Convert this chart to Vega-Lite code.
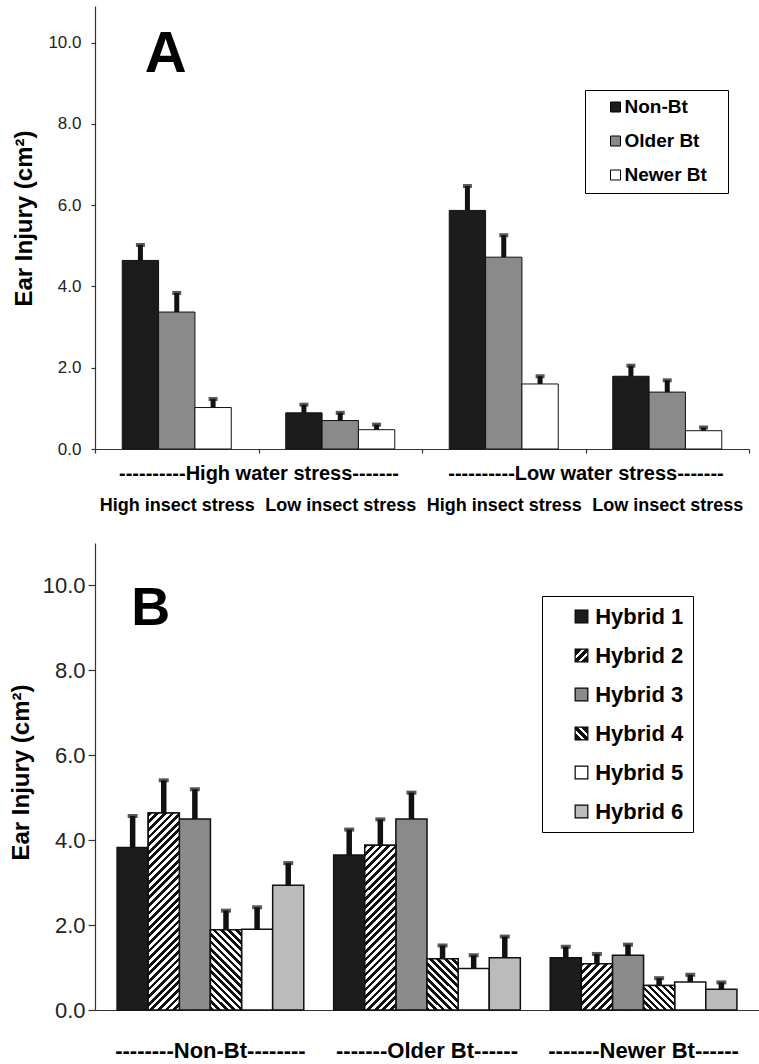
{
  "$schema": "https://vega.github.io/schema/vega-lite/v6.json",
  "padding": {"left": 9, "top": 6, "right": 0, "bottom": 0},
  "background": "white",
  "bounds": "flush",
  "spacing": 94,
  "resolve": {"scale": {"x": "independent", "xOffset": "independent", "y": "independent", "fill": "independent"}, "legend": {"fill": "independent"}, "axis": {"x": "independent", "y": "independent"}},
  "config": {
    "font": "Liberation Sans",
    "view": {"stroke": null},
    "axis": {"labelFont": "Liberation Sans", "titleFont": "Liberation Sans", "grid": false, "domainColor": "#333", "tickColor": "#333", "labelColor": "#222", "titleColor": "#000", "domainWidth": 1.2, "tickWidth": 1.2},
    "legend": {"labelFont": "Liberation Sans", "titleFont": "Liberation Sans"}
  },
  "vconcat": [
    {
      "width": 654,
      "height": 443,
      "layer": [
        {
          "data": {"values": [
            {"cond": "High water, high insect", "type": "Non-Bt", "val": 4.64, "err": 5.02},
            {"cond": "High water, high insect", "type": "Older Bt", "val": 3.37, "err": 3.84},
            {"cond": "High water, high insect", "type": "Newer Bt", "val": 1.02, "err": 1.23},
            {"cond": "High water, low insect", "type": "Non-Bt", "val": 0.89, "err": 1.09},
            {"cond": "High water, low insect", "type": "Older Bt", "val": 0.7, "err": 0.89},
            {"cond": "High water, low insect", "type": "Newer Bt", "val": 0.475, "err": 0.6},
            {"cond": "Low water, high insect", "type": "Non-Bt", "val": 5.87, "err": 6.47},
            {"cond": "Low water, high insect", "type": "Older Bt", "val": 4.72, "err": 5.26},
            {"cond": "Low water, high insect", "type": "Newer Bt", "val": 1.6, "err": 1.79},
            {"cond": "Low water, low insect", "type": "Non-Bt", "val": 1.79, "err": 2.05},
            {"cond": "Low water, low insect", "type": "Older Bt", "val": 1.4, "err": 1.69},
            {"cond": "Low water, low insect", "type": "Newer Bt", "val": 0.45, "err": 0.53}
          ]},
          "encoding": {
            "x": {"field": "cond", "type": "nominal", "sort": null,
              "scale": {"domain": ["High water, high insect", "High water, low insect", "Low water, high insect", "Low water, low insect"], "paddingInner": 0, "paddingOuter": 0},
              "axis": {"title": null, "labelExpr": "datum.label ? (indexof(datum.label, 'high insect') >= 0 ? 'High insect stress' : 'Low insect stress') : ''", "labelAngle": 0, "labelFontSize": 18, "labelFontWeight": "bold", "labelColor": "#000", "labelPadding": 43, "tickSize": 4, "tickBand": "extent", "labelLimit": 0, "labelOverlap": false}},
            "xOffset": {"field": "type", "type": "nominal", "scale": {"domain": ["Non-Bt", "Older Bt", "Newer Bt"], "paddingInner": 0, "paddingOuter": 0.75}},
            "y": {"field": "val", "type": "quantitative", "scale": {"domain": [0, 10.9], "nice": false},
              "axis": {"title": "Ear  Injury  (cm²)", "titleFontSize": 24, "titleFontWeight": "bold", "titleX": -71, "titleY": 212, "titleAngle": -90, "titleBaseline": "middle", "titleAlign": "center", "values": [0, 2, 4, 6, 8, 10], "format": ".1f", "labelFontSize": 17, "tickSize": 4, "labelPadding": 10}}
          },
          "layer": [
            {"mark": {"type": "bar", "stroke": "#111", "strokeWidth": 1},
             "encoding": {"fill": {"field": "type", "type": "nominal",
               "scale": {"domain": ["Non-Bt", "Older Bt", "Newer Bt"], "range": ["#1c1c1c", "#8a8a8a", "#ffffff"]},
               "legend": {"title": " ", "titleOrient": "right", "titlePadding": 14, "titleFontSize": 19, "orient": "none", "legendX": 490, "legendY": 84, "symbolType": "square", "symbolSize": 100, "symbolStrokeColor": "#000", "symbolStrokeWidth": 1, "labelFontSize": 19, "labelFontWeight": "bold", "labelColor": "#000", "rowPadding": 14, "padding": 7.5, "symbolOffset": 13.5, "labelOffset": -0.5, "strokeColor": "#000", "fillColor": "#fff"}}}},
            {"mark": {"type": "rule", "color": "#111", "strokeWidth": 5}, "encoding": {"y2": {"field": "err"}}},
            {"mark": {"type": "tick", "color": "#111", "thickness": 4, "size": 9}, "encoding": {"y": {"field": "err", "type": "quantitative"}}},
            {"data": {"values": [{"cond": "High water, high insect", "type": "Older Bt", "val": 9.28, "lab": "A"}]},
             "mark": {"type": "text", "fontSize": 58, "fontWeight": "bold", "dx": -11, "baseline": "alphabetic", "align": "center", "color": "#000"},
             "encoding": {"text": {"field": "lab"}}}
          ]
        },
        {
          "data": {"values": [{"water": "----------High water stress-------"}, {"water": "----------Low water stress-------"}]},
          "mark": {"type": "point", "opacity": 0},
          "encoding": {"x": {"field": "water", "type": "nominal", "sort": null, "scale": {"paddingInner": 0, "paddingOuter": 0},
            "axis": {"orient": "bottom", "title": null, "domain": false, "ticks": false, "tickSize": 0, "labelPadding": 14, "labelFontSize": 20, "labelFontWeight": "bold", "labelColor": "#000", "labelAngle": 0, "labelLimit": 0, "labelOverlap": false}}}
        }
      ],
      "resolve": {"scale": {"x": "independent"}, "axis": {"x": "independent"}}
    },
    {
      "width": 664,
      "height": 467,
      "data": {"values": [
        {"grp": "Non-Bt", "hyb": "Hybrid 1", "val": 3.83, "err": 4.57},
        {"grp": "Non-Bt", "hyb": "Hybrid 2", "val": 4.64, "err": 5.41},
        {"grp": "Non-Bt", "hyb": "Hybrid 3", "val": 4.5, "err": 5.2},
        {"grp": "Non-Bt", "hyb": "Hybrid 4", "val": 1.89, "err": 2.34},
        {"grp": "Non-Bt", "hyb": "Hybrid 5", "val": 1.9, "err": 2.42},
        {"grp": "Non-Bt", "hyb": "Hybrid 6", "val": 2.94, "err": 3.46},
        {"grp": "Older Bt", "hyb": "Hybrid 1", "val": 3.65, "err": 4.25},
        {"grp": "Older Bt", "hyb": "Hybrid 2", "val": 3.88, "err": 4.49},
        {"grp": "Older Bt", "hyb": "Hybrid 3", "val": 4.5, "err": 5.12},
        {"grp": "Older Bt", "hyb": "Hybrid 4", "val": 1.21, "err": 1.52},
        {"grp": "Older Bt", "hyb": "Hybrid 5", "val": 0.98, "err": 1.29},
        {"grp": "Older Bt", "hyb": "Hybrid 6", "val": 1.23, "err": 1.73},
        {"grp": "Newer Bt", "hyb": "Hybrid 1", "val": 1.23, "err": 1.49},
        {"grp": "Newer Bt", "hyb": "Hybrid 2", "val": 1.09, "err": 1.32},
        {"grp": "Newer Bt", "hyb": "Hybrid 3", "val": 1.29, "err": 1.54},
        {"grp": "Newer Bt", "hyb": "Hybrid 4", "val": 0.58, "err": 0.75},
        {"grp": "Newer Bt", "hyb": "Hybrid 5", "val": 0.66, "err": 0.83},
        {"grp": "Newer Bt", "hyb": "Hybrid 6", "val": 0.49, "err": 0.65}
      ]},
      "encoding": {
        "x": {"field": "grp", "type": "nominal", "sort": null,
          "scale": {"domain": ["Non-Bt", "Older Bt", "Newer Bt"], "paddingInner": 0, "paddingOuter": 0.033},
          "axis": {"title": null, "labelExpr": "datum.label === 'Non-Bt' ? '--------Non-Bt--------' : datum.label === 'Older Bt' ? '-------Older  Bt------' : '-------Newer  Bt------'", "labelAngle": 0, "ticks": false, "tickSize": 0, "labelPadding": 30, "labelFontSize": 22, "labelFontWeight": "bold", "labelColor": "#000", "labelLimit": 0, "labelOverlap": false}},
        "xOffset": {"field": "hyb", "type": "nominal", "scale": {"domain": ["Hybrid 1", "Hybrid 2", "Hybrid 3", "Hybrid 4", "Hybrid 5", "Hybrid 6"], "paddingInner": 0, "paddingOuter": 0.48}},
        "y": {"field": "val", "type": "quantitative", "scale": {"domain": [0, 11], "nice": false},
          "axis": {"title": "Ear Injury  (cm²)", "titleFontSize": 24, "titleFontWeight": "bold", "titleX": -74, "titleY": 229, "titleAngle": -90, "titleBaseline": "middle", "titleAlign": "center", "values": [0, 2, 4, 6, 8, 10], "format": ".1f", "labelFontSize": 22, "tickSize": 7, "labelPadding": 3}}
      },
      "layer": [
        {"mark": {"type": "bar", "stroke": "#111", "strokeWidth": 1.5},
         "encoding": {
           "fill": {"field": "hyb", "type": "nominal",
             "scale": {"domain": ["Hybrid 1", "Hybrid 2", "Hybrid 3", "Hybrid 4", "Hybrid 5", "Hybrid 6"],
               "range": ["#1c1c1c", "#444444", "#8a8a8a", "#444444", "#ffffff", "#bbbbbb"]},
             "legend": null},
           "strokeDash": {"field": "hyb", "type": "nominal",
             "scale": {"domain": ["Hybrid 1", "Hybrid 2", "Hybrid 3", "Hybrid 4", "Hybrid 5", "Hybrid 6"],
               "range": [[1, 0], [1, 0], [1, 0], [1, 0], [1, 0], [1, 0]]},
             "legend": {"title": " ", "titleOrient": "right", "titlePadding": 0, "titleFontSize": 22, "orient": "none", "legendX": 447, "legendY": 590, "symbolType": "square", "symbolSize": 161, "symbolStrokeColor": "#000", "symbolStrokeWidth": 1.2, "labelFontSize": 22, "labelFontWeight": "bold", "labelColor": "#000", "rowPadding": 17, "padding": 9.5, "symbolOffset": 19, "labelOffset": 2.7, "strokeColor": "#000", "fillColor": "#fff",
               "encoding": {"symbols": {
                 "fill": {"condition": [
                   {"test": "datum.value === 'Hybrid 1'", "value": "#1c1c1c"},
                   {"test": "datum.value === 'Hybrid 2'", "value": {"gradient": "linear", "x1": 0, "y1": 0, "x2": 1, "y2": 1, "stops": [{"offset": 0, "color": "#111"}, {"offset": 0.3, "color": "#111"}, {"offset": 0.3, "color": "#fff"}, {"offset": 0.42, "color": "#fff"}, {"offset": 0.42, "color": "#111"}, {"offset": 0.58, "color": "#111"}, {"offset": 0.58, "color": "#fff"}, {"offset": 0.7, "color": "#fff"}, {"offset": 0.7, "color": "#111"}, {"offset": 1, "color": "#111"}]}},
                   {"test": "datum.value === 'Hybrid 3'", "value": "#8a8a8a"},
                   {"test": "datum.value === 'Hybrid 4'", "value": {"gradient": "linear", "x1": 0, "y1": 1, "x2": 1, "y2": 0, "stops": [{"offset": 0, "color": "#111"}, {"offset": 0.3, "color": "#111"}, {"offset": 0.3, "color": "#fff"}, {"offset": 0.42, "color": "#fff"}, {"offset": 0.42, "color": "#111"}, {"offset": 0.58, "color": "#111"}, {"offset": 0.58, "color": "#fff"}, {"offset": 0.7, "color": "#fff"}, {"offset": 0.7, "color": "#111"}, {"offset": 1, "color": "#111"}]}},
                   {"test": "datum.value === 'Hybrid 5'", "value": "#ffffff"}
                 ], "value": "#bbbbbb"},
                 "stroke": {"value": "#000"},
                 "strokeWidth": {"value": 1.2}
               }}}}}},
        {"transform": [{"filter": "datum.grp === 'Non-Bt' && datum.hyb === 'Hybrid 2'"}],
         "mark": {"type": "bar", "stroke": "#111", "strokeWidth": 1.5, "fill": {"gradient": "linear", "x1": 0, "y1": 0, "x2": 0.1781, "y2": 1.1296, "stops": [
{"offset":0,"color":"#111"},
{"offset":0.0167,"color":"#111"},{"offset":0.0167,"color":"#fff"},
{"offset":0.0333,"color":"#fff"},{"offset":0.0333,"color":"#111"},
{"offset":0.05,"color":"#111"},{"offset":0.05,"color":"#fff"},
{"offset":0.0667,"color":"#fff"},{"offset":0.0667,"color":"#111"},
{"offset":0.0833,"color":"#111"},{"offset":0.0833,"color":"#fff"},
{"offset":0.1,"color":"#fff"},{"offset":0.1,"color":"#111"},
{"offset":0.1167,"color":"#111"},{"offset":0.1167,"color":"#fff"},
{"offset":0.1333,"color":"#fff"},{"offset":0.1333,"color":"#111"},
{"offset":0.15,"color":"#111"},{"offset":0.15,"color":"#fff"},
{"offset":0.1667,"color":"#fff"},{"offset":0.1667,"color":"#111"},
{"offset":0.1833,"color":"#111"},{"offset":0.1833,"color":"#fff"},
{"offset":0.2,"color":"#fff"},{"offset":0.2,"color":"#111"},
{"offset":0.2167,"color":"#111"},{"offset":0.2167,"color":"#fff"},
{"offset":0.2333,"color":"#fff"},{"offset":0.2333,"color":"#111"},
{"offset":0.25,"color":"#111"},{"offset":0.25,"color":"#fff"},
{"offset":0.2667,"color":"#fff"},{"offset":0.2667,"color":"#111"},
{"offset":0.2833,"color":"#111"},{"offset":0.2833,"color":"#fff"},
{"offset":0.3,"color":"#fff"},{"offset":0.3,"color":"#111"},
{"offset":0.3167,"color":"#111"},{"offset":0.3167,"color":"#fff"},
{"offset":0.3333,"color":"#fff"},{"offset":0.3333,"color":"#111"},
{"offset":0.35,"color":"#111"},{"offset":0.35,"color":"#fff"},
{"offset":0.3667,"color":"#fff"},{"offset":0.3667,"color":"#111"},
{"offset":0.3833,"color":"#111"},{"offset":0.3833,"color":"#fff"},
{"offset":0.4,"color":"#fff"},{"offset":0.4,"color":"#111"},
{"offset":0.4167,"color":"#111"},{"offset":0.4167,"color":"#fff"},
{"offset":0.4333,"color":"#fff"},{"offset":0.4333,"color":"#111"},
{"offset":0.45,"color":"#111"},{"offset":0.45,"color":"#fff"},
{"offset":0.4667,"color":"#fff"},{"offset":0.4667,"color":"#111"},
{"offset":0.4833,"color":"#111"},{"offset":0.4833,"color":"#fff"},
{"offset":0.5,"color":"#fff"},{"offset":0.5,"color":"#111"},
{"offset":0.5167,"color":"#111"},{"offset":0.5167,"color":"#fff"},
{"offset":0.5333,"color":"#fff"},{"offset":0.5333,"color":"#111"},
{"offset":0.55,"color":"#111"},{"offset":0.55,"color":"#fff"},
{"offset":0.5667,"color":"#fff"},{"offset":0.5667,"color":"#111"},
{"offset":0.5833,"color":"#111"},{"offset":0.5833,"color":"#fff"},
{"offset":0.6,"color":"#fff"},{"offset":0.6,"color":"#111"},
{"offset":0.6167,"color":"#111"},{"offset":0.6167,"color":"#fff"},
{"offset":0.6333,"color":"#fff"},{"offset":0.6333,"color":"#111"},
{"offset":0.65,"color":"#111"},{"offset":0.65,"color":"#fff"},
{"offset":0.6667,"color":"#fff"},{"offset":0.6667,"color":"#111"},
{"offset":0.6833,"color":"#111"},{"offset":0.6833,"color":"#fff"},
{"offset":0.7,"color":"#fff"},{"offset":0.7,"color":"#111"},
{"offset":0.7167,"color":"#111"},{"offset":0.7167,"color":"#fff"},
{"offset":0.7333,"color":"#fff"},{"offset":0.7333,"color":"#111"},
{"offset":0.75,"color":"#111"},{"offset":0.75,"color":"#fff"},
{"offset":0.7667,"color":"#fff"},{"offset":0.7667,"color":"#111"},
{"offset":0.7833,"color":"#111"},{"offset":0.7833,"color":"#fff"},
{"offset":0.8,"color":"#fff"},{"offset":0.8,"color":"#111"},
{"offset":0.8167,"color":"#111"},{"offset":0.8167,"color":"#fff"},
{"offset":0.8333,"color":"#fff"},{"offset":0.8333,"color":"#111"},
{"offset":0.85,"color":"#111"},{"offset":0.85,"color":"#fff"},
{"offset":0.8667,"color":"#fff"},{"offset":0.8667,"color":"#111"},
{"offset":0.8833,"color":"#111"},{"offset":0.8833,"color":"#fff"},
{"offset":0.9,"color":"#fff"},{"offset":0.9,"color":"#111"},
{"offset":0.9167,"color":"#111"},{"offset":0.9167,"color":"#fff"},
{"offset":0.9333,"color":"#fff"},{"offset":0.9333,"color":"#111"},
{"offset":0.95,"color":"#111"},{"offset":0.95,"color":"#fff"},
{"offset":0.9667,"color":"#fff"},{"offset":0.9667,"color":"#111"},
{"offset":0.9833,"color":"#111"},{"offset":0.9833,"color":"#fff"},
{"offset":1,"color":"#fff"}
         ]}}},
        {"transform": [{"filter": "datum.grp === 'Older Bt' && datum.hyb === 'Hybrid 2'"}],
         "mark": {"type": "bar", "stroke": "#111", "strokeWidth": 1.5, "fill": {"gradient": "linear", "x1": 0, "y1": 0, "x2": 0.2165, "y2": 1.1478, "stops": [
{"offset":0,"color":"#111"},
{"offset":0.0192,"color":"#111"},{"offset":0.0192,"color":"#fff"},
{"offset":0.0385,"color":"#fff"},{"offset":0.0385,"color":"#111"},
{"offset":0.0577,"color":"#111"},{"offset":0.0577,"color":"#fff"},
{"offset":0.0769,"color":"#fff"},{"offset":0.0769,"color":"#111"},
{"offset":0.0962,"color":"#111"},{"offset":0.0962,"color":"#fff"},
{"offset":0.1154,"color":"#fff"},{"offset":0.1154,"color":"#111"},
{"offset":0.1346,"color":"#111"},{"offset":0.1346,"color":"#fff"},
{"offset":0.1538,"color":"#fff"},{"offset":0.1538,"color":"#111"},
{"offset":0.1731,"color":"#111"},{"offset":0.1731,"color":"#fff"},
{"offset":0.1923,"color":"#fff"},{"offset":0.1923,"color":"#111"},
{"offset":0.2115,"color":"#111"},{"offset":0.2115,"color":"#fff"},
{"offset":0.2308,"color":"#fff"},{"offset":0.2308,"color":"#111"},
{"offset":0.25,"color":"#111"},{"offset":0.25,"color":"#fff"},
{"offset":0.2692,"color":"#fff"},{"offset":0.2692,"color":"#111"},
{"offset":0.2885,"color":"#111"},{"offset":0.2885,"color":"#fff"},
{"offset":0.3077,"color":"#fff"},{"offset":0.3077,"color":"#111"},
{"offset":0.3269,"color":"#111"},{"offset":0.3269,"color":"#fff"},
{"offset":0.3462,"color":"#fff"},{"offset":0.3462,"color":"#111"},
{"offset":0.3654,"color":"#111"},{"offset":0.3654,"color":"#fff"},
{"offset":0.3846,"color":"#fff"},{"offset":0.3846,"color":"#111"},
{"offset":0.4038,"color":"#111"},{"offset":0.4038,"color":"#fff"},
{"offset":0.4231,"color":"#fff"},{"offset":0.4231,"color":"#111"},
{"offset":0.4423,"color":"#111"},{"offset":0.4423,"color":"#fff"},
{"offset":0.4615,"color":"#fff"},{"offset":0.4615,"color":"#111"},
{"offset":0.4808,"color":"#111"},{"offset":0.4808,"color":"#fff"},
{"offset":0.5,"color":"#fff"},{"offset":0.5,"color":"#111"},
{"offset":0.5192,"color":"#111"},{"offset":0.5192,"color":"#fff"},
{"offset":0.5385,"color":"#fff"},{"offset":0.5385,"color":"#111"},
{"offset":0.5577,"color":"#111"},{"offset":0.5577,"color":"#fff"},
{"offset":0.5769,"color":"#fff"},{"offset":0.5769,"color":"#111"},
{"offset":0.5962,"color":"#111"},{"offset":0.5962,"color":"#fff"},
{"offset":0.6154,"color":"#fff"},{"offset":0.6154,"color":"#111"},
{"offset":0.6346,"color":"#111"},{"offset":0.6346,"color":"#fff"},
{"offset":0.6538,"color":"#fff"},{"offset":0.6538,"color":"#111"},
{"offset":0.6731,"color":"#111"},{"offset":0.6731,"color":"#fff"},
{"offset":0.6923,"color":"#fff"},{"offset":0.6923,"color":"#111"},
{"offset":0.7115,"color":"#111"},{"offset":0.7115,"color":"#fff"},
{"offset":0.7308,"color":"#fff"},{"offset":0.7308,"color":"#111"},
{"offset":0.75,"color":"#111"},{"offset":0.75,"color":"#fff"},
{"offset":0.7692,"color":"#fff"},{"offset":0.7692,"color":"#111"},
{"offset":0.7885,"color":"#111"},{"offset":0.7885,"color":"#fff"},
{"offset":0.8077,"color":"#fff"},{"offset":0.8077,"color":"#111"},
{"offset":0.8269,"color":"#111"},{"offset":0.8269,"color":"#fff"},
{"offset":0.8462,"color":"#fff"},{"offset":0.8462,"color":"#111"},
{"offset":0.8654,"color":"#111"},{"offset":0.8654,"color":"#fff"},
{"offset":0.8846,"color":"#fff"},{"offset":0.8846,"color":"#111"},
{"offset":0.9038,"color":"#111"},{"offset":0.9038,"color":"#fff"},
{"offset":0.9231,"color":"#fff"},{"offset":0.9231,"color":"#111"},
{"offset":0.9423,"color":"#111"},{"offset":0.9423,"color":"#fff"},
{"offset":0.9615,"color":"#fff"},{"offset":0.9615,"color":"#111"},
{"offset":0.9808,"color":"#111"},{"offset":0.9808,"color":"#fff"},
{"offset":1,"color":"#fff"}
         ]}}},
        {"transform": [{"filter": "datum.grp === 'Newer Bt' && datum.hyb === 'Hybrid 2'"}],
         "mark": {"type": "bar", "stroke": "#111", "strokeWidth": 1.5, "fill": {"gradient": "linear", "x1": 0, "y1": 0, "x2": 0.7738, "y2": 1.1519, "stops": [
{"offset":0,"color":"#111"},
{"offset":0.05,"color":"#111"},{"offset":0.05,"color":"#fff"},
{"offset":0.1,"color":"#fff"},{"offset":0.1,"color":"#111"},
{"offset":0.15,"color":"#111"},{"offset":0.15,"color":"#fff"},
{"offset":0.2,"color":"#fff"},{"offset":0.2,"color":"#111"},
{"offset":0.25,"color":"#111"},{"offset":0.25,"color":"#fff"},
{"offset":0.3,"color":"#fff"},{"offset":0.3,"color":"#111"},
{"offset":0.35,"color":"#111"},{"offset":0.35,"color":"#fff"},
{"offset":0.4,"color":"#fff"},{"offset":0.4,"color":"#111"},
{"offset":0.45,"color":"#111"},{"offset":0.45,"color":"#fff"},
{"offset":0.5,"color":"#fff"},{"offset":0.5,"color":"#111"},
{"offset":0.55,"color":"#111"},{"offset":0.55,"color":"#fff"},
{"offset":0.6,"color":"#fff"},{"offset":0.6,"color":"#111"},
{"offset":0.65,"color":"#111"},{"offset":0.65,"color":"#fff"},
{"offset":0.7,"color":"#fff"},{"offset":0.7,"color":"#111"},
{"offset":0.75,"color":"#111"},{"offset":0.75,"color":"#fff"},
{"offset":0.8,"color":"#fff"},{"offset":0.8,"color":"#111"},
{"offset":0.85,"color":"#111"},{"offset":0.85,"color":"#fff"},
{"offset":0.9,"color":"#fff"},{"offset":0.9,"color":"#111"},
{"offset":0.95,"color":"#111"},{"offset":0.95,"color":"#fff"},
{"offset":1,"color":"#fff"}
         ]}}},
        {"transform": [{"filter": "datum.grp === 'Non-Bt' && datum.hyb === 'Hybrid 4'"}],
         "mark": {"type": "bar", "stroke": "#111", "strokeWidth": 1.5, "fill": {"gradient": "linear", "x1": 0, "y1": 1, "x2": 0.4672, "y2": -0.2063, "stops": [
{"offset":0,"color":"#111"},
{"offset":0.0333,"color":"#111"},{"offset":0.0333,"color":"#fff"},
{"offset":0.0667,"color":"#fff"},{"offset":0.0667,"color":"#111"},
{"offset":0.1,"color":"#111"},{"offset":0.1,"color":"#fff"},
{"offset":0.1333,"color":"#fff"},{"offset":0.1333,"color":"#111"},
{"offset":0.1667,"color":"#111"},{"offset":0.1667,"color":"#fff"},
{"offset":0.2,"color":"#fff"},{"offset":0.2,"color":"#111"},
{"offset":0.2333,"color":"#111"},{"offset":0.2333,"color":"#fff"},
{"offset":0.2667,"color":"#fff"},{"offset":0.2667,"color":"#111"},
{"offset":0.3,"color":"#111"},{"offset":0.3,"color":"#fff"},
{"offset":0.3333,"color":"#fff"},{"offset":0.3333,"color":"#111"},
{"offset":0.3667,"color":"#111"},{"offset":0.3667,"color":"#fff"},
{"offset":0.4,"color":"#fff"},{"offset":0.4,"color":"#111"},
{"offset":0.4333,"color":"#111"},{"offset":0.4333,"color":"#fff"},
{"offset":0.4667,"color":"#fff"},{"offset":0.4667,"color":"#111"},
{"offset":0.5,"color":"#111"},{"offset":0.5,"color":"#fff"},
{"offset":0.5333,"color":"#fff"},{"offset":0.5333,"color":"#111"},
{"offset":0.5667,"color":"#111"},{"offset":0.5667,"color":"#fff"},
{"offset":0.6,"color":"#fff"},{"offset":0.6,"color":"#111"},
{"offset":0.6333,"color":"#111"},{"offset":0.6333,"color":"#fff"},
{"offset":0.6667,"color":"#fff"},{"offset":0.6667,"color":"#111"},
{"offset":0.7,"color":"#111"},{"offset":0.7,"color":"#fff"},
{"offset":0.7333,"color":"#fff"},{"offset":0.7333,"color":"#111"},
{"offset":0.7667,"color":"#111"},{"offset":0.7667,"color":"#fff"},
{"offset":0.8,"color":"#fff"},{"offset":0.8,"color":"#111"},
{"offset":0.8333,"color":"#111"},{"offset":0.8333,"color":"#fff"},
{"offset":0.8667,"color":"#fff"},{"offset":0.8667,"color":"#111"},
{"offset":0.9,"color":"#111"},{"offset":0.9,"color":"#fff"},
{"offset":0.9333,"color":"#fff"},{"offset":0.9333,"color":"#111"},
{"offset":0.9667,"color":"#111"},{"offset":0.9667,"color":"#fff"},
{"offset":1,"color":"#fff"}
         ]}}},
        {"transform": [{"filter": "datum.grp === 'Older Bt' && datum.hyb === 'Hybrid 4'"}],
         "mark": {"type": "bar", "stroke": "#111", "strokeWidth": 1.5, "fill": {"gradient": "linear", "x1": 0, "y1": 1, "x2": 0.7109, "y2": -0.1749, "stops": [
{"offset":0,"color":"#111"},
{"offset":0.0455,"color":"#111"},{"offset":0.0455,"color":"#fff"},
{"offset":0.0909,"color":"#fff"},{"offset":0.0909,"color":"#111"},
{"offset":0.1364,"color":"#111"},{"offset":0.1364,"color":"#fff"},
{"offset":0.1818,"color":"#fff"},{"offset":0.1818,"color":"#111"},
{"offset":0.2273,"color":"#111"},{"offset":0.2273,"color":"#fff"},
{"offset":0.2727,"color":"#fff"},{"offset":0.2727,"color":"#111"},
{"offset":0.3182,"color":"#111"},{"offset":0.3182,"color":"#fff"},
{"offset":0.3636,"color":"#fff"},{"offset":0.3636,"color":"#111"},
{"offset":0.4091,"color":"#111"},{"offset":0.4091,"color":"#fff"},
{"offset":0.4545,"color":"#fff"},{"offset":0.4545,"color":"#111"},
{"offset":0.5,"color":"#111"},{"offset":0.5,"color":"#fff"},
{"offset":0.5455,"color":"#fff"},{"offset":0.5455,"color":"#111"},
{"offset":0.5909,"color":"#111"},{"offset":0.5909,"color":"#fff"},
{"offset":0.6364,"color":"#fff"},{"offset":0.6364,"color":"#111"},
{"offset":0.6818,"color":"#111"},{"offset":0.6818,"color":"#fff"},
{"offset":0.7273,"color":"#fff"},{"offset":0.7273,"color":"#111"},
{"offset":0.7727,"color":"#111"},{"offset":0.7727,"color":"#fff"},
{"offset":0.8182,"color":"#fff"},{"offset":0.8182,"color":"#111"},
{"offset":0.8636,"color":"#111"},{"offset":0.8636,"color":"#fff"},
{"offset":0.9091,"color":"#fff"},{"offset":0.9091,"color":"#111"},
{"offset":0.9545,"color":"#111"},{"offset":0.9545,"color":"#fff"},
{"offset":1,"color":"#fff"}
         ]}}},
        {"transform": [{"filter": "datum.grp === 'Newer Bt' && datum.hyb === 'Hybrid 4'"}],
         "mark": {"type": "bar", "stroke": "#111", "strokeWidth": 1.5, "fill": {"gradient": "linear", "x1": 0, "y1": 1, "x2": 1.1017, "y2": 0.1286, "stops": [
{"offset":0,"color":"#111"},
{"offset":0.0625,"color":"#111"},{"offset":0.0625,"color":"#fff"},
{"offset":0.125,"color":"#fff"},{"offset":0.125,"color":"#111"},
{"offset":0.1875,"color":"#111"},{"offset":0.1875,"color":"#fff"},
{"offset":0.25,"color":"#fff"},{"offset":0.25,"color":"#111"},
{"offset":0.3125,"color":"#111"},{"offset":0.3125,"color":"#fff"},
{"offset":0.375,"color":"#fff"},{"offset":0.375,"color":"#111"},
{"offset":0.4375,"color":"#111"},{"offset":0.4375,"color":"#fff"},
{"offset":0.5,"color":"#fff"},{"offset":0.5,"color":"#111"},
{"offset":0.5625,"color":"#111"},{"offset":0.5625,"color":"#fff"},
{"offset":0.625,"color":"#fff"},{"offset":0.625,"color":"#111"},
{"offset":0.6875,"color":"#111"},{"offset":0.6875,"color":"#fff"},
{"offset":0.75,"color":"#fff"},{"offset":0.75,"color":"#111"},
{"offset":0.8125,"color":"#111"},{"offset":0.8125,"color":"#fff"},
{"offset":0.875,"color":"#fff"},{"offset":0.875,"color":"#111"},
{"offset":0.9375,"color":"#111"},{"offset":0.9375,"color":"#fff"},
{"offset":1,"color":"#fff"}
         ]}}},
        {"mark": {"type": "rule", "color": "#111", "strokeWidth": 5.5}, "encoding": {"y2": {"field": "err"}}},
        {"mark": {"type": "tick", "color": "#111", "thickness": 4, "size": 10}, "encoding": {"y": {"field": "err", "type": "quantitative"}}},
        {"data": {"values": [{"grp": "Non-Bt", "hyb": "Hybrid 2", "val": 9.07, "lab": "B"}]},
         "mark": {"type": "text", "fontSize": 54, "fontWeight": "bold", "dx": -13, "baseline": "alphabetic", "align": "center", "color": "#000"},
         "encoding": {"text": {"field": "lab"}}}
      ]
    }
  ]
}
